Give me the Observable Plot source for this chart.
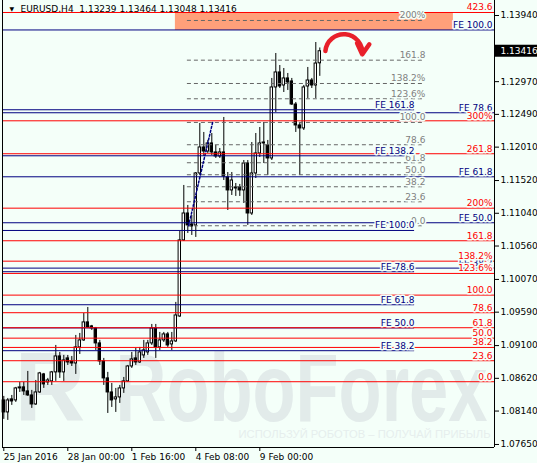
<!DOCTYPE html>
<html><head><meta charset="utf-8">
<script src="https://cdn.jsdelivr.net/npm/d3@7"></script>
<script src="https://cdn.jsdelivr.net/npm/@observablehq/plot@0.6"></script>
<style>
html,body{margin:0;padding:0;background:#F4FFF9;}
#chart svg{display:block;}
</style></head><body><div id="chart"></div>
<script>
// ---- data (EURUSD H4 candles) ----
const open = [1.08296,1.08120,1.08311,1.08296,1.08472,1.08487,1.08428,1.08369,1.08237,1.08413,
1.08677,1.08560,1.08575,1.08707,1.08941,1.08707,1.08912,1.08868,1.08838,1.09073,
1.09176,1.09440,1.09381,1.09352,1.09132,1.08868,1.08619,1.08413,1.08311,1.08340,
1.08472,1.08575,1.08794,1.08912,1.08853,1.08956,1.09000,1.09132,1.09352,1.09073,
1.09176,1.09264,1.09117,1.09161,1.09527,1.10642,1.11037,1.10876,1.10862,1.11624,
1.12005,1.11946,1.12064,1.11932,1.11873,1.11932,1.11565,1.11375,1.11404,1.11419,
1.11375,1.11770,1.11037,1.11624,1.11917,1.12064,1.12034,1.11844,1.12885,1.13105,
1.12914,1.13017,1.12973,1.12635,1.12328,1.12284,1.12899,1.12987,1.12914,1.13239];
const high = [1.08355,1.08325,1.08369,1.08487,1.08560,1.08560,1.08721,1.08443,1.08589,1.08707,
1.08692,1.08619,1.08721,1.09102,1.09000,1.08956,1.08956,1.08941,1.09249,1.09278,
1.09571,1.09659,1.09396,1.09366,1.09176,1.08912,1.08707,1.08545,1.08472,1.08516,
1.08633,1.08809,1.09000,1.09058,1.09073,1.09176,1.09176,1.09410,1.09410,1.09293,
1.09293,1.09293,1.09293,1.09733,1.10774,1.11448,1.11155,1.11008,1.11638,1.12357,
1.12225,1.12108,1.12210,1.12034,1.11990,1.12445,1.11638,1.11638,1.11477,1.11463,
1.11814,1.11814,1.12078,1.12210,1.12298,1.12372,1.12108,1.13017,1.13383,1.13207,
1.13163,1.13090,1.13017,1.12665,1.12372,1.12914,1.13178,1.13017,1.13544,1.13464];
const low = [1.08018,1.08003,1.08223,1.08267,1.08413,1.08369,1.08355,1.08179,1.08223,1.08399,
1.08472,1.08516,1.08516,1.08575,1.08619,1.08575,1.08809,1.08794,1.08677,1.08970,
1.09161,1.09352,1.09322,1.09029,1.08809,1.08516,1.08105,1.08193,1.08120,1.08252,
1.08399,1.08560,1.08765,1.08809,1.08838,1.08912,1.08956,1.09102,1.08912,1.09029,
1.09146,1.09073,1.09029,1.09146,1.09513,1.10627,1.10744,1.10715,1.10686,1.11595,
1.11873,1.11917,1.11888,1.11844,1.11844,1.11521,1.11081,1.11301,1.11287,1.11287,
1.11184,1.10862,1.11008,1.11550,1.11858,1.11770,1.11595,1.11814,1.12518,1.12870,
1.12811,1.12841,1.12621,1.12225,1.11595,1.12254,1.12723,1.12870,1.12723,1.13048];
const close = [1.08120,1.08296,1.08281,1.08472,1.08487,1.08428,1.08369,1.08237,1.08413,1.08692,
1.08531,1.08589,1.08707,1.08941,1.08707,1.08882,1.08853,1.08838,1.09073,1.09176,
1.09440,1.09366,1.09352,1.09132,1.08868,1.08619,1.08413,1.08296,1.08340,1.08472,
1.08575,1.08794,1.08897,1.08853,1.09000,1.09029,1.09132,1.09352,1.09073,1.09176,
1.09264,1.09102,1.09161,1.09542,1.10642,1.11037,1.10862,1.10847,1.11624,1.12005,
1.11946,1.12064,1.11932,1.11873,1.11932,1.11580,1.11375,1.11521,1.11419,1.11375,
1.11770,1.11037,1.11624,1.11917,1.12064,1.12078,1.11844,1.12885,1.13105,1.12899,
1.13017,1.12958,1.12635,1.12328,1.12284,1.12885,1.12987,1.12914,1.13236,1.13416];

const header = "EURUSD,H4  1.13239 1.13464 1.13048 1.13416";
const lastPrice = 1.13416;
const xTickBars = [0, 16, 32, 48, 64];
const xTickLabels = ["25 Jan 2016", "28 Jan 00:00", "1 Feb 16:00", "4 Feb 08:00", "9 Feb 00:00"];
const yTicks = [1.13940, 1.12970, 1.12490, 1.12010, 1.11520, 1.11040, 1.10560, 1.10070, 1.09590, 1.09100, 1.08620, 1.08140, 1.07650];

// red expansion levels (full width)
const redLabels = ["423.6","300%","261.8","200%","161.8","138.2%","123.6%","100.0","78.6","61.8","50.0","38.2","23.6","0.0"];
const redPrices = [1.13984,1.12396,1.11913,1.11115,1.10637,1.10338,1.10158,1.09840,1.09582,1.09362,1.09209,1.09073,1.08878,1.08570];
// navy FE levels, full width
const feOuterLabels = ["FE 100.0","FE 78.6","FE 61.8","FE 50.0","FE 38.2"];
const feOuterPrices = [1.13728,1.12514,1.11575,1.10901,1.10236];
// navy FE levels, shorter
const feInnerLabels = ["FE 161.8","FE 138.2","FE 100.0","FE 78.6","FE 61.8","FE 50.0","FE 38.2"];
const feInnerPrices = [1.12558,1.11883,1.10788,1.10183,1.09699,1.09359,1.09025];
const feInnerEndBar = 102.7;
// grey retracement levels
const retrLabels = ["200%","161.8","138.2%","123.6%","100.0","78.6","61.8","50.0","38.2","23.6","0.0"];
const retrPrices = [1.13867,1.13285,1.12943,1.12719,1.12372,1.12045,1.11781,1.11605,1.11429,1.11209,1.10857];
const retrStartBar = 45.9, retrEndBar = 105.4;
const retrBaseBars = [46.2, 52.2], retrBasePrices = [1.10857, 1.12372];
// target zone rectangle
const zoneBars = [42.9, 112.4], zonePrices = [1.13720, 1.13984];
// arrow
const arrowBars = [80.4, 89.6], arrowPrices = [1.13420, 1.13370];
// watermark
const watermark = "RoboForex";
const watermarkLogo = "R";
const tagline = "ИСПОЛЬЗУЙ РОБОТОВ – ПОЛУЧАЙ ПРИБЫЛЬ";

// ---- build ----
const BG = "#F4FFF9";
const candles = open.map((o, i) => ({i, open: o, high: high[i], low: low[i], close: close[i]}));
const W = 537, H = 463, mL = 2, mR = 43, mT = 0, mB = 16;
const xDomain = [(mL - 3.3) / 4, (W - mR - 3.3) / 4];
const pxPerUnit = 6820;
const yTop = 1.13940 + 15 / pxPerUnit;
const yDomain = [yTop - (H - mB - mT) / pxPerUnit, yTop];
const xRight = xDomain[1];
const boxBars = (W - (W - mR)) / 4;
const rightLabelBar = xRight - 0.5;

const mk = (labels, prices) => labels.map((t, k) => ({t, p: prices[k]}));
const red = mk(redLabels, redPrices);
const feO = mk(feOuterLabels, feOuterPrices);
const feI = mk(feInnerLabels, feInnerPrices);
const retr = mk(retrLabels, retrPrices);

const fontFam = "'DejaVu Sans', Tahoma, sans-serif";
const wmFont = "'Liberation Sans', Arial, sans-serif";
const WM = "#E2EBEA";

const chart = Plot.plot({
  width: W, height: H,
  marginLeft: mL, marginRight: mR, marginTop: mT, marginBottom: mB,
  x: {type: "linear", domain: xDomain, axis: null},
  y: {type: "linear", domain: yDomain, axis: null},
  style: {fontFamily: fontFam, fontSize: "9px", background: BG, overflow: "visible"},
  marks: [
    // watermark
    Plot.text([watermarkLogo], {frameAnchor: "bottom-left", dx: 12, dy: -27, textAnchor: "start", lineAnchor: "bottom",
      fontSize: 98, fontWeight: "bold", fontFamily: wmFont, fill: WM}),
    Plot.text([watermark], {frameAnchor: "bottom-left", dx: 113, dy: -27, textAnchor: "start", lineAnchor: "bottom",
      fontSize: 96, fontWeight: "bold", fontFamily: wmFont, fill: WM, className: "wm"}),
    Plot.text([tagline], {frameAnchor: "bottom-right", dx: -4, dy: -10, textAnchor: "end", lineAnchor: "bottom",
      fontSize: 11, fontFamily: wmFont, fill: "#E6EEED", className: "wm2"}),
    // header
    Plot.text(["▼"], {frameAnchor: "top-left", dx: 7, dy: 6, textAnchor: "start", lineAnchor: "top", fontSize: 6, fill: "black"}),
    Plot.text([header], {frameAnchor: "top-left", dx: 18, dy: 5, textAnchor: "start", lineAnchor: "top", fill: "black"}),
    // zone
    Plot.rect([0], {x1: zoneBars[0], x2: zoneBars[1], y1: zonePrices[0], y2: zonePrices[1], fill: "#FFA07A"}),
    // candles
    Plot.ruleX(candles, {x: "i", y1: "low", y2: "high", stroke: "black", strokeWidth: 1}),
    Plot.rect(candles, {x1: d => d.i - 0.3, x2: d => d.i + 0.3, y1: "open", y2: "close",
      fill: d => d.close >= d.open ? "white" : "black", stroke: "black", strokeWidth: 1}),
    // retracement
    Plot.ruleY(retr, {y: "p", x1: retrStartBar, x2: retrEndBar, stroke: "#666666", strokeDasharray: "4,3"}),
    Plot.line(retrBaseBars.map((b, k) => ({b, p: retrBasePrices[k]})), {x: "b", y: "p", stroke: "#000080", strokeDasharray: "2,2"}),
    // FE navy
    Plot.ruleY(feI, {y: "p", x1: xDomain[0], x2: feInnerEndBar, stroke: "#000080"}),
    Plot.ruleY(feO, {y: "p", stroke: "#000080"}),
    // red
    Plot.ruleY(red, {y: "p", stroke: "#FF0000"}),
    // labels
    Plot.text(retr, {x: retrEndBar, y: "p", text: "t", textAnchor: "end", lineAnchor: "bottom", dy: -2, fill: "#808080", stroke: BG, strokeWidth: 3}),
    Plot.text(feI, {x: feInnerEndBar, y: "p", text: "t", textAnchor: "end", lineAnchor: "bottom", dy: -2, fill: "#000080", stroke: BG, strokeWidth: 3}),
    Plot.text(feO, {x: rightLabelBar, y: "p", text: "t", textAnchor: "end", lineAnchor: "bottom", dy: -2, fill: "#000080", stroke: BG, strokeWidth: 3}),
    Plot.text(red, {x: rightLabelBar, y: "p", text: "t", textAnchor: "end", lineAnchor: "bottom", dy: -2, fill: "#FF0000", stroke: BG, strokeWidth: 3}),
    // arrow
    Plot.arrow([0], {x1: arrowBars[0], y1: arrowPrices[0], x2: arrowBars[1], y2: arrowPrices[1], bend: 90,
      stroke: "#E8202A", strokeWidth: 4.5, headLength: 7}),
    // frame
    Plot.ruleX([xDomain[0], xDomain[1]], {stroke: "black"}),
    Plot.ruleY([yDomain[0]], {stroke: "black"}),
    // axes
    Plot.axisY(yTicks, {anchor: "right", tickSize: 4, tickPadding: 2, tickFormat: d => d.toFixed(5), fill: "black", stroke: "black"}),
    Plot.axisX(xTickBars, {anchor: "bottom", tickSize: 4, tickPadding: 2, textAnchor: "start", dx: 0,
      tickFormat: (d) => xTickLabels[xTickBars.indexOf(d)], fill: "black", stroke: "black"}),
    // last price box
    Plot.rect([lastPrice], {x1: xRight, x2: xRight + boxBars, y1: d => d - 6 / pxPerUnit, y2: d => d + 6 / pxPerUnit, fill: "black"}),
    Plot.text([lastPrice], {x: xRight, y: d => d, dx: 6, textAnchor: "start", text: d => d.toFixed(5), fill: "white"})
  ]
});
document.getElementById("chart").appendChild(chart);
// squeeze watermark text to its width
d3.select(chart).selectAll(".wm text").attr("textLength", 372).attr("lengthAdjust", "spacingAndGlyphs");
d3.select(chart).selectAll(".wm2 text").attr("textLength", 252).attr("lengthAdjust", "spacingAndGlyphs");
</script></body></html>
